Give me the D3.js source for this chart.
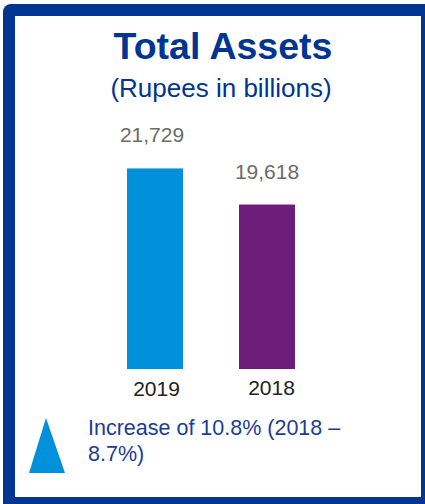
<!DOCTYPE html>
<html><head><meta charset="utf-8">
<script src="https://cdn.jsdelivr.net/npm/d3@7"></script>
<style>html,body{margin:0;padding:0;background:#fff;}svg{display:block;}</style>
</head><body>
<svg id="c" width="425" height="504"></svg>
<script>
const categories = ["2019", "2018"];
const values = [21729, 19618];
const valueLabels = ["21,729", "19,618"];
const barColors = ["#0091da", "#6c1d7a"];
const titleText = "Total Assets";
const subtitleText = "(Rupees in billions)";
const noteLines = ["Increase of 10.8% (2018 \u2013", "8.7%)"];

const svg = d3.select("#c");
const font = "'Liberation Sans', Arial, sans-serif";
const navy = "#003591";

// frame
svg.append("rect").attr("x", 3).attr("y", 4).attr("width", 440).attr("height", 520).attr("rx", 8).attr("fill", navy);
svg.append("rect").attr("x", 15).attr("y", 16).attr("width", 406).attr("height", 481).attr("fill", "#fff");

// titles
svg.append("text").attr("x", 223).attr("y", 59).attr("text-anchor", "middle")
  .attr("font-family", font).attr("font-weight", "bold").attr("font-size", 37.5)
  .attr("fill", navy).text(titleText);
svg.append("text").attr("x", 221).attr("y", 97).attr("text-anchor", "middle")
  .attr("font-family", font).attr("font-size", 26)
  .attr("fill", navy).text(subtitleText);

// scales
const x = d3.scaleBand().domain(categories).range([99, 323]).paddingInner(0.5).paddingOuter(0.25);
const y = d3.scaleLinear().domain([10000, 22000]).range([369, 163.8]);

const g = svg.append("g");
g.selectAll("rect.bar").data(categories).join("rect").attr("class", "bar")
  .attr("x", d => x(d)).attr("width", x.bandwidth())
  .attr("y", (d, i) => y(values[i])).attr("height", (d, i) => y(10000) - y(values[i]))
  .attr("fill", (d, i) => barColors[i]);

g.selectAll("text.val").data(categories).join("text").attr("class", "val")
  .attr("x", (d, i) => x(d) + x.bandwidth() / 2 - (i === 0 ? 3 : 0)).attr("y", (d, i) => y(values[i]) - 26)
  .attr("text-anchor", "middle").attr("font-family", font).attr("font-size", 21)
  .attr("fill", "#6b6b6b").text((d, i) => valueLabels[i]);

const axis = svg.append("g").attr("transform", "translate(0,369)")
  .call(d3.axisBottom(x).tickSize(0).tickPadding(12));
axis.select(".domain").remove();
axis.selectAll("text").attr("font-family", font).attr("font-size", 21).attr("fill", "#222")
  .attr("dx", (d, i) => i === 0 ? 1.5 : 4.5).attr("dy", (d, i) => i === 0 ? "0.71em" : "0.66em");

// note
svg.append("path").attr("d", "M46,418 L65,473 L29,473 Z").attr("fill", "#0091da");
const note = svg.append("text").attr("font-family", font).attr("font-size", 21.5).attr("fill", "#1a3d96");
noteLines.forEach((t, i) => note.append("tspan").attr("x", 88).attr("y", 435 + i * 26).text(t));
</script>
</body></html>
